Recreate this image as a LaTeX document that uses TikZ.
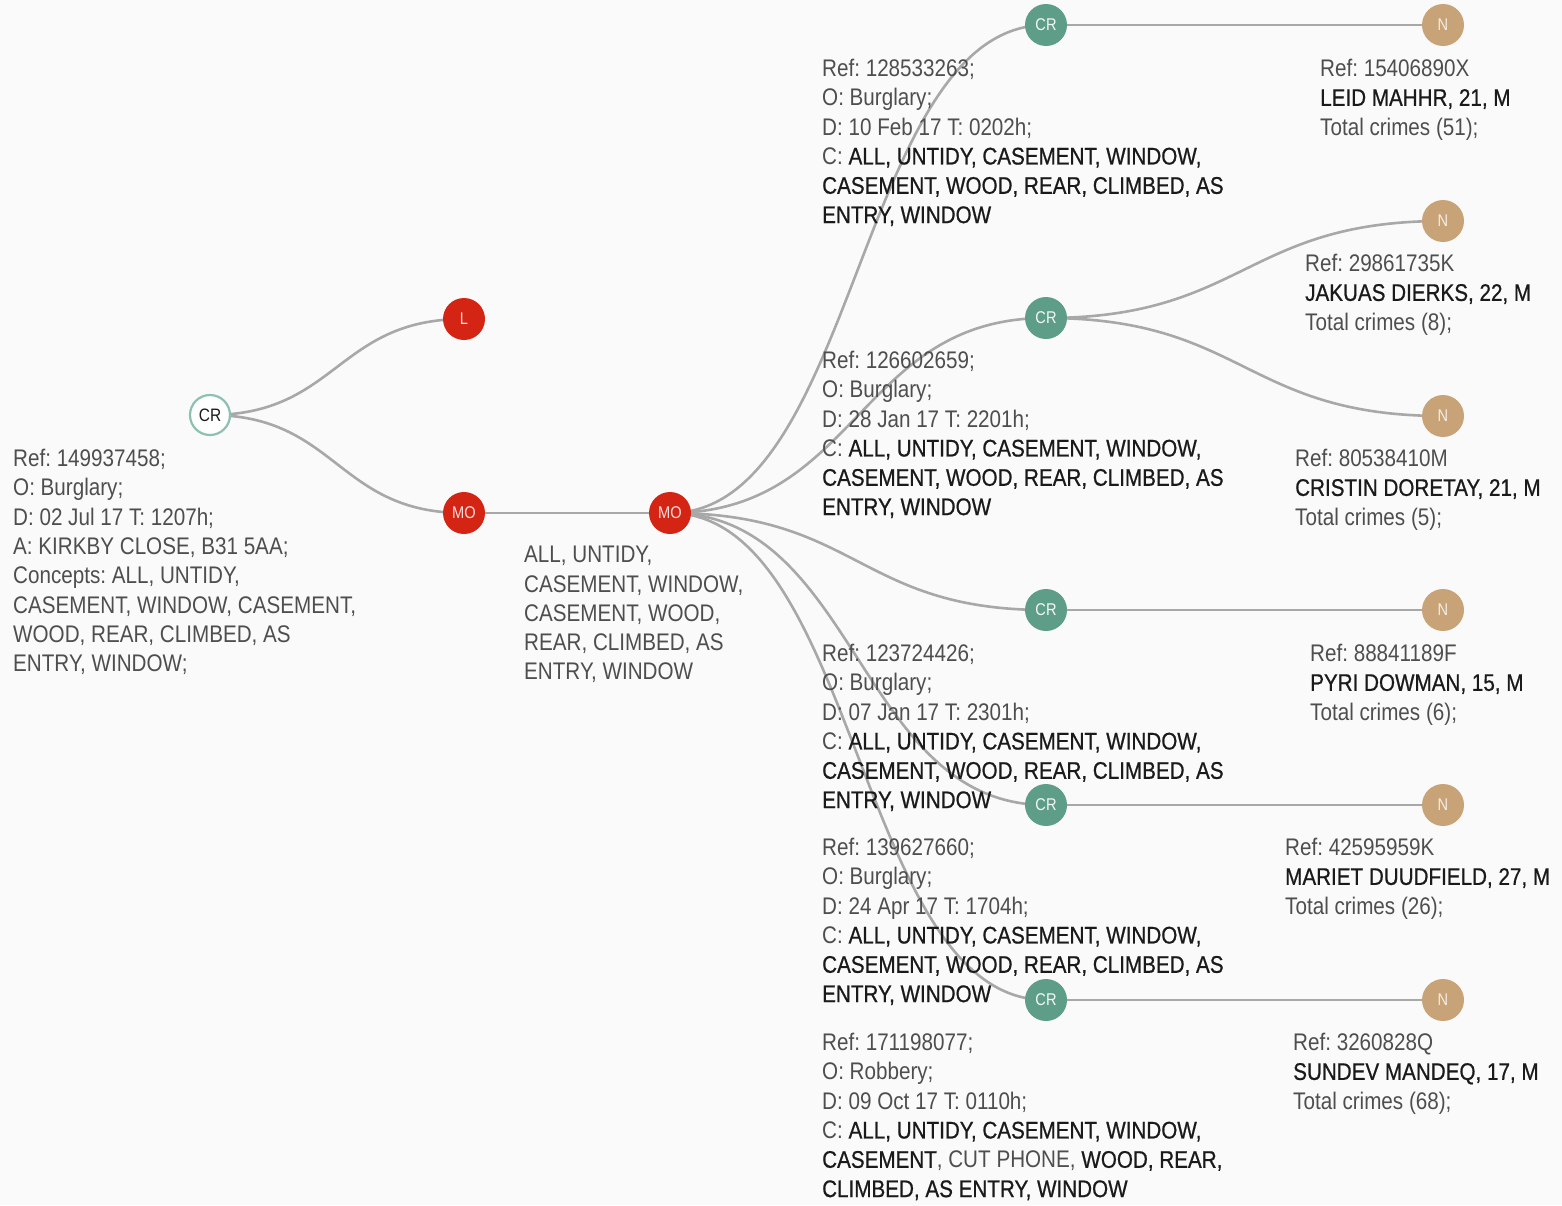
\documentclass[tikz,border=0pt]{standalone}
\usepackage{fontspec}
\setmainfont{Liberation Sans}[FakeStretch=0.86]
\newfontfamily\darkface{Liberation Sans}[FakeStretch=0.86, FakeBold=0.7]
\usetikzlibrary{calc,backgrounds}

\definecolor{bgpaper}{HTML}{FAFAFA}
\definecolor{edgegray}{HTML}{A8A8A8}
\definecolor{crteal}{HTML}{5E9E88}
\definecolor{crring}{HTML}{8CC0B2}
\definecolor{mored}{HTML}{D42414}
\definecolor{ntan}{HTML}{C9A378}
\definecolor{txtgray}{HTML}{4E4E4E}
\definecolor{txtdark}{HTML}{1A1A1A}

\newcommand\dk[1]{{\darkface\color{txtdark}#1}}

\tikzset{
  dot/.style={circle, minimum size=42pt, inner sep=0pt, font=\fontsize{17}{17}\selectfont},
  crdot/.style={dot, fill=crteal, text=white!92!crteal},
  rootdot/.style={dot, fill=white, draw=crring, line width=2.2pt, text=txtdark, minimum size=40pt, font=\fontsize{18}{18}\selectfont},
  modot/.style={dot, fill=mored, text=white!85!mored},
  ndot/.style={dot, fill=ntan, text=white!80!ntan},
  lbl/.style={anchor=north west, inner sep=0pt, align=left, text=txtgray,
    font=\fontsize{24}{29.3}\selectfont\frenchspacing},
  edge/.style={draw=edgegray, line width=2.6pt},
}

\newcommand\link[2]{%
  \draw[edge] let \p1=(#1), \p2=(#2) in
    (#1.center) .. controls ({(\x1+\x2)/2},\y1) and ({(\x1+\x2)/2},\y2) .. (#2.center);}

\begin{document}
\begin{tikzpicture}[x=1pt, y=-1pt]
  \useasboundingbox (0,0) rectangle (1562,1205);

  % circles
  \node[rootdot] (root) at (210,415) {CR};
  \node[modot]   (loc)  at (464,319) {L};
  \node[modot]   (mo1)  at (464,513) {MO};
  \node[modot]   (mo2)  at (670,513) {MO};

  \node[crdot] (c1) at (1046,25)   {CR};
  \node[crdot] (c2) at (1046,318)  {CR};
  \node[crdot] (c3) at (1046,610)  {CR};
  \node[crdot] (c4) at (1046,805)  {CR};
  \node[crdot] (c5) at (1046,1000) {CR};

  \node[ndot] (n1) at (1443,25)   {N};
  \node[ndot] (n2) at (1443,221)  {N};
  \node[ndot] (n3) at (1443,416)  {N};
  \node[ndot] (n4) at (1443,610)  {N};
  \node[ndot] (n5) at (1443,805)  {N};
  \node[ndot] (n6) at (1443,1000) {N};

  % links, behind everything else
  \begin{scope}[on background layer]
    \fill[bgpaper] (0,0) rectangle (1562,1205);
    \link{root}{loc}
    \link{root}{mo1}
    \link{mo1}{mo2}
    \link{mo2}{c1}
    \link{mo2}{c2}
    \link{mo2}{c3}
    \link{mo2}{c4}
    \link{mo2}{c5}
    \link{c1}{n1}
    \link{c2}{n2}
    \link{c2}{n3}
    \link{c3}{n4}
    \link{c4}{n5}
    \link{c5}{n6}
  \end{scope}

  % crime and offender details
  \node[lbl] (troot) at (13,449) {Ref: 149937458;\\ O: Burglary;\\ D: 02 Jul 17 T: 1207h;\\
    A: KIRKBY CLOSE, B31 5AA;\\ Concepts: ALL, UNTIDY,\\ CASEMENT, WINDOW, CASEMENT,\\
    WOOD, REAR, CLIMBED, AS\\ ENTRY, WINDOW;};

  \node[lbl] (tmo) at (524,546) {ALL, UNTIDY,\\ CASEMENT, WINDOW,\\ CASEMENT, WOOD,\\
    REAR, CLIMBED, AS\\ ENTRY, WINDOW};

  \node[lbl] (tc1) at (822,59) {Ref: 128533263;\\ O: Burglary;\\ D: 10 Feb 17 T: 0202h;\\
    C: \dk{ALL, UNTIDY, CASEMENT, WINDOW,}\\ \dk{CASEMENT, WOOD, REAR, CLIMBED, AS}\\ \dk{ENTRY, WINDOW}};
  \node[lbl] (tc2) at (822,351) {Ref: 126602659;\\ O: Burglary;\\ D: 28 Jan 17 T: 2201h;\\
    C: \dk{ALL, UNTIDY, CASEMENT, WINDOW,}\\ \dk{CASEMENT, WOOD, REAR, CLIMBED, AS}\\ \dk{ENTRY, WINDOW}};
  \node[lbl] (tc3) at (822,644) {Ref: 123724426;\\ O: Burglary;\\ D: 07 Jan 17 T: 2301h;\\
    C: \dk{ALL, UNTIDY, CASEMENT, WINDOW,}\\ \dk{CASEMENT, WOOD, REAR, CLIMBED, AS}\\ \dk{ENTRY, WINDOW}};
  \node[lbl] (tc4) at (822,838) {Ref: 139627660;\\ O: Burglary;\\ D: 24 Apr 17 T: 1704h;\\
    C: \dk{ALL, UNTIDY, CASEMENT, WINDOW,}\\ \dk{CASEMENT, WOOD, REAR, CLIMBED, AS}\\ \dk{ENTRY, WINDOW}};
  \node[lbl] (tc5) at (822,1033) {Ref: 171198077;\\ O: Robbery;\\ D: 09 Oct 17 T: 0110h;\\
    C: \dk{ALL, UNTIDY, CASEMENT, WINDOW,}\\ \dk{CASEMENT}, CUT PHONE, \dk{WOOD, REAR,}\\ \dk{CLIMBED, AS ENTRY, WINDOW}};

  \node[lbl] (tn1) at (1320,59)   {Ref: 15406890X\\ \dk{LEID MAHHR, 21, M}\\ Total crimes (51);};
  \node[lbl] (tn2) at (1305,254)  {Ref: 29861735K\\ \dk{JAKUAS DIERKS, 22, M}\\ Total crimes (8);};
  \node[lbl] (tn3) at (1295,449)  {Ref: 80538410M\\ \dk{CRISTIN DORETAY, 21, M}\\ Total crimes (5);};
  \node[lbl] (tn4) at (1310,644)  {Ref: 88841189F\\ \dk{PYRI DOWMAN, 15, M}\\ Total crimes (6);};
  \node[lbl] (tn5) at (1285,838)  {Ref: 42595959K\\ \dk{MARIET DUUDFIELD, 27, M}\\ Total crimes (26);};
  \node[lbl] (tn6) at (1293,1033) {Ref: 3260828Q\\ \dk{SUNDEV MANDEQ, 17, M}\\ Total crimes (68);};
\end{tikzpicture}
\end{document}
